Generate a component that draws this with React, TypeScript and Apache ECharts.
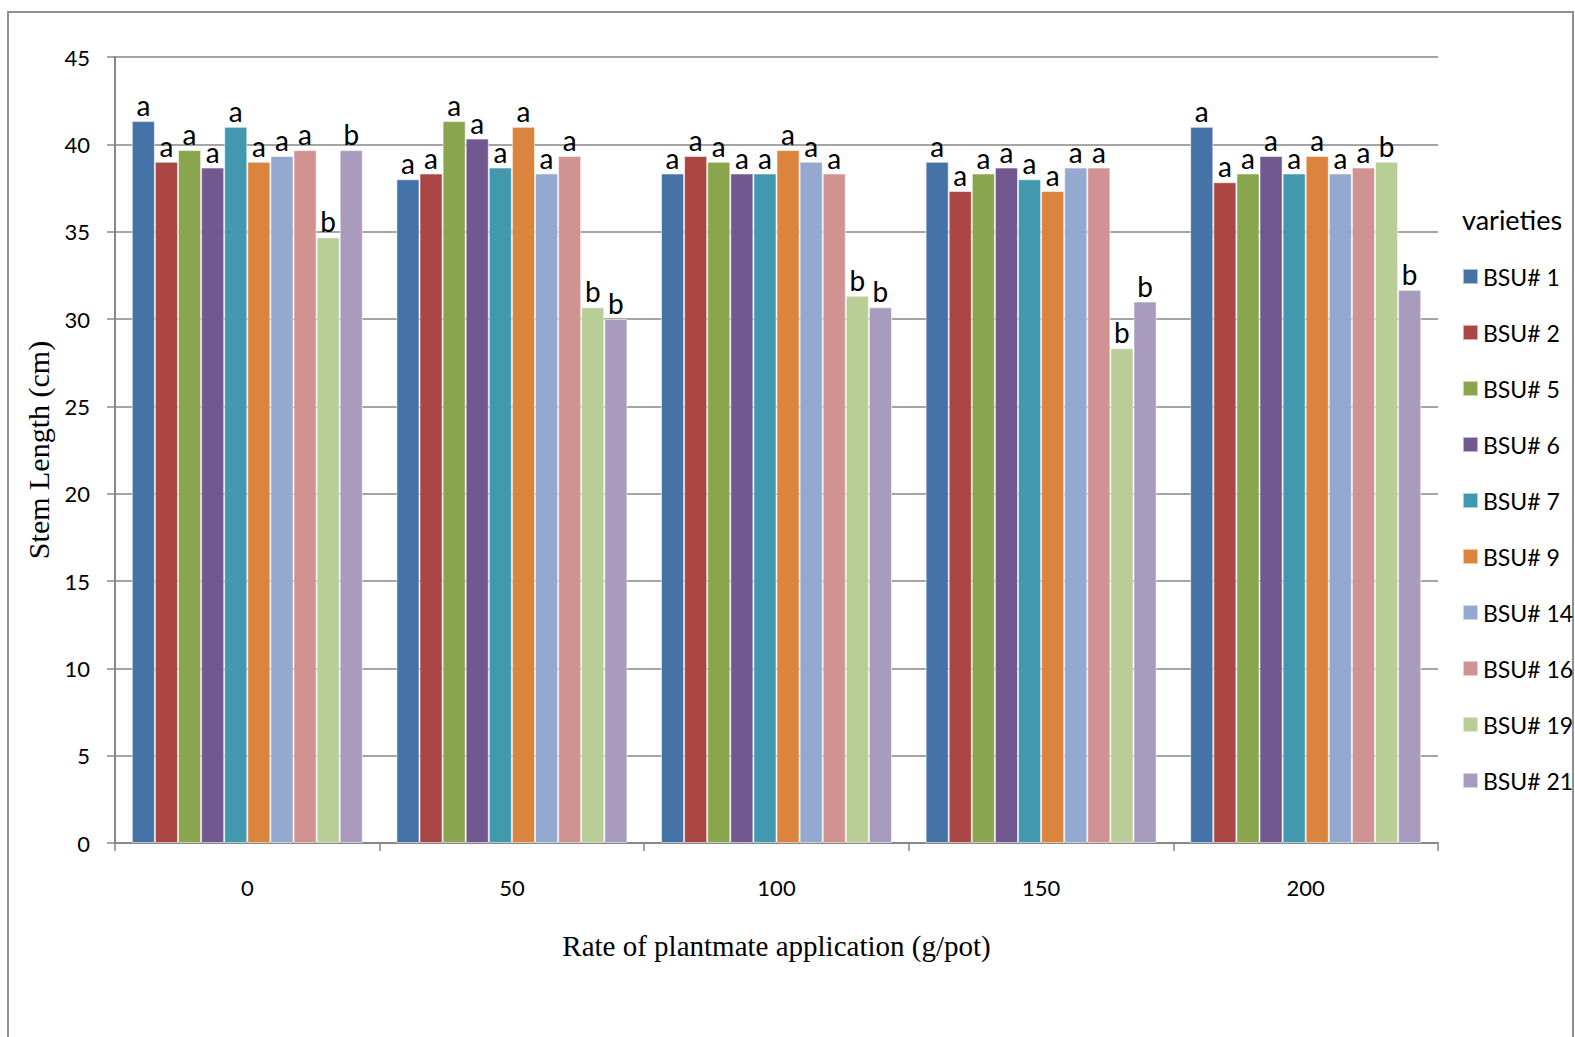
import React, { useEffect, useRef } from "react";
import * as echarts from "echarts";

const categories = ["0", "50", "100", "150", "200"];
const varieties = ["BSU# 1", "BSU# 2", "BSU# 5", "BSU# 6", "BSU# 7", "BSU# 9", "BSU# 14", "BSU# 16", "BSU# 19", "BSU# 21"];
const colors = ["#4572A7", "#AA4643", "#89A54E", "#71588F", "#4198AF", "#DB843D", "#93A9CF", "#D19392", "#B9CD96", "#A99BBD"];

// values[variety][rate]
const bsu1 = [41.33, 38.0, 38.33, 39.0, 41.0];
const bsu2 = [39.0, 38.33, 39.33, 37.33, 37.83];
const bsu5 = [39.67, 41.33, 39.0, 38.33, 38.33];
const bsu6 = [38.67, 40.33, 38.33, 38.67, 39.33];
const bsu7 = [41.0, 38.67, 38.33, 38.0, 38.33];
const bsu9 = [39.0, 41.0, 39.67, 37.33, 39.33];
const bsu14 = [39.33, 38.33, 39.0, 38.67, 38.33];
const bsu16 = [39.67, 39.33, 38.33, 38.67, 38.67];
const bsu19 = [34.67, 30.67, 31.33, 28.33, 39.0];
const bsu21 = [39.67, 30.0, 30.67, 31.0, 31.67];
const seriesValues = [bsu1, bsu2, bsu5, bsu6, bsu7, bsu9, bsu14, bsu16, bsu19, bsu21];

// significance letters[variety][rate]
const lettersA = ["a", "a", "a", "a", "a"];
const lettersB = ["b", "b", "b", "b", "b"];
const letters = [lettersA, lettersA, lettersA, lettersA, lettersA, lettersA, lettersA, lettersA, lettersB, lettersB];

const yTicks = { min: 0, max: 45, interval: 5 };

const SANS = "Lato, 'Open Sans', sans-serif";
const SERIF = "'Liberation Serif', 'DejaVu Serif', serif";
const GRID_COLOR = "#878787";

export default function App() {
  const ref = useRef<HTMLDivElement>(null);
  useEffect(() => {
    if (!ref.current) return;
    const chart = echarts.init(ref.current, undefined, { renderer: "svg" });
    const option: any = {
      animation: false,
      backgroundColor: "#ffffff",
      color: colors,
      grid: { left: 115, top: 57, width: 1323, height: 786, containLabel: false },
      legend: {
        orient: "vertical",
        left: 1457,
        top: 260,
        itemWidth: 15,
        itemHeight: 15,
        itemGap: 33,
        icon: "rect",
        data: varieties,
        textStyle: { fontFamily: SANS, fontSize: 23, color: "#000" },
        selectedMode: false,
      },
      xAxis: {
        type: "category",
        data: categories,
        name: "Rate of plantmate application (g/pot)",
        nameLocation: "middle",
        nameGap: 88,
        nameTextStyle: { fontFamily: SERIF, fontSize: 29, color: "#000" },
        axisLine: { show: true, lineStyle: { color: GRID_COLOR, width: 2 } },
        axisTick: { show: true, length: 8, alignWithLabel: false, lineStyle: { color: GRID_COLOR, width: 1.5 } },
        axisLabel: { fontFamily: SANS, fontSize: 22, color: "#000", margin: 33 },
        splitLine: { show: false },
      },
      yAxis: {
        type: "value",
        min: yTicks.min,
        max: yTicks.max,
        interval: yTicks.interval,
        name: "Stem Length (cm)",
        nameLocation: "middle",
        nameRotate: 90,
        nameGap: 62,
        nameTextStyle: { fontFamily: SERIF, fontSize: 30, color: "#000" },
        axisLine: { show: true, lineStyle: { color: GRID_COLOR, width: 2 } },
        axisTick: { show: true, length: 8, lineStyle: { color: GRID_COLOR, width: 1.5 } },
        axisLabel: { fontFamily: SANS, fontSize: 22, color: "#000", margin: 25 },
        splitLine: { show: true, lineStyle: { color: GRID_COLOR, width: 1.5 } },
      },
      graphic: [
        {
          type: "rect",
          shape: { x: 8, y: 12, width: 1565, height: 1100 },
          style: { fill: "none", stroke: "#8f8f8f", lineWidth: 2 },
          silent: true,
        },
        {
          type: "text",
          left: 1462,
          top: 206,
          style: { text: "varieties", fontFamily: SANS, fontSize: 27, fill: "#000" },
          silent: true,
        },
      ],
      series: varieties.map((name, si) => ({
        name,
        type: "bar",
        barGap: "0%",
        barCategoryGap: "12.7%",
        data: seriesValues[si],
        itemStyle: { color: colors[si], borderColor: "rgba(255,255,255,0.55)", borderWidth: 1 },
        label: {
          show: true,
          position: "top",
          distance: 2,
          fontFamily: SANS,
          fontSize: 28,
          color: "#000",
          formatter: (p: any) => letters[si][p.dataIndex],
        },
      })),
    };
    chart.setOption(option);
    return () => chart.dispose();
  }, []);
  return <div ref={ref} style={{ position: "absolute", left: 0, top: 0, width: 1575, height: 1037 }} />;
}
